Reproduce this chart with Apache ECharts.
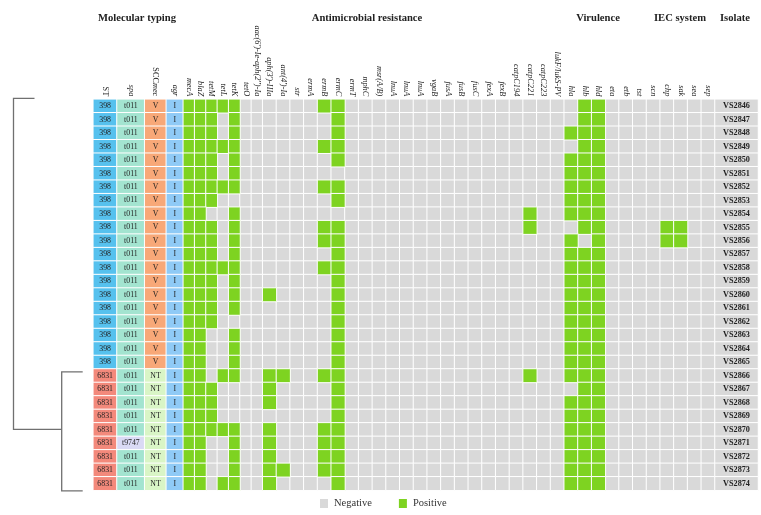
<!DOCTYPE html>
<html><head><meta charset="utf-8">
<script src="https://cdn.jsdelivr.net/npm/echarts/dist/echarts.min.js"></script>
<style>html,body{margin:0;padding:0;background:#fff}#c{width:761px;height:515px}</style>
</head><body><div id="c"></div>
<script>
// ---------------- data ----------------
const isolates = ['VS2846','VS2847','VS2848','VS2849','VS2850','VS2851','VS2852','VS2853','VS2854','VS2855',
  'VS2856','VS2857','VS2858','VS2859','VS2860','VS2861','VS2862','VS2863','VS2864','VS2865',
  'VS2866','VS2867','VS2868','VS2869','VS2870','VS2871','VS2872','VS2873','VS2874'];
const stValues = ['398','398','398','398','398','398','398','398','398','398','398','398','398','398','398','398','398','398','398','398',
  '6831','6831','6831','6831','6831','6831','6831','6831','6831'];
const spaValues = ['t011','t011','t011','t011','t011','t011','t011','t011','t011','t011','t011','t011','t011','t011','t011','t011','t011','t011','t011','t011',
  't011','t011','t011','t011','t011','t9747','t011','t011','t011'];
const sccValues = ['V','V','V','V','V','V','V','V','V','V','V','V','V','V','V','V','V','V','V','V',
  'NT','NT','NT','NT','NT','NT','NT','NT','NT'];
const agrValues = ['I','I','I','I','I','I','I','I','I','I','I','I','I','I','I','I','I','I','I','I','I','I','I','I','I','I','I','I','I'];
const genesA = ['mecA','blaZ','tetM','tetL','tetK','tetO',"aac(6')-Ie-aph(2'')-Ia"];
const genesB = ["aph(3')-IIIa","ant(4')-Ia",'str','ermA','ermB','ermC','ermT','mphC','msr(A/B)','lnuA','lnuA','lnuA','vgaB',
  'fusA','fusB','fusC','fexA','fexB','catpC194','catpC221','catpC223','lukF/lukS-PV',
  'hla','hlb','hld','eta','etb','tst','scn','chp','sak','sea','sep'];
// presence (1) / absence (0) per isolate, columns in order genesA then genesB
const presence = [
  [1,1,1,1,1,0,0,0,0,0, 0,1,1,0,0,0,0,0,0,0, 0,0,0,0,0,0,0,0,0,0, 1,1,0,0,0,0,0,0,0,0],
  [1,1,1,0,1,0,0,0,0,0, 0,0,1,0,0,0,0,0,0,0, 0,0,0,0,0,0,0,0,0,0, 1,1,0,0,0,0,0,0,0,0],
  [1,1,1,0,1,0,0,0,0,0, 0,0,1,0,0,0,0,0,0,0, 0,0,0,0,0,0,0,0,0,1, 1,1,0,0,0,0,0,0,0,0],
  [1,1,1,1,1,0,0,0,0,0, 0,1,1,0,0,0,0,0,0,0, 0,0,0,0,0,0,0,0,0,0, 1,1,0,0,0,0,0,0,0,0],
  [1,1,1,0,1,0,0,0,0,0, 0,0,1,0,0,0,0,0,0,0, 0,0,0,0,0,0,0,0,0,1, 1,1,0,0,0,0,0,0,0,0],
  [1,1,1,0,1,0,0,0,0,0, 0,0,0,0,0,0,0,0,0,0, 0,0,0,0,0,0,0,0,0,1, 1,1,0,0,0,0,0,0,0,0],
  [1,1,1,1,1,0,0,0,0,0, 0,1,1,0,0,0,0,0,0,0, 0,0,0,0,0,0,0,0,0,1, 1,1,0,0,0,0,0,0,0,0],
  [1,1,1,0,0,0,0,0,0,0, 0,0,1,0,0,0,0,0,0,0, 0,0,0,0,0,0,0,0,0,1, 1,1,0,0,0,0,0,0,0,0],
  [1,1,0,0,1,0,0,0,0,0, 0,0,0,0,0,0,0,0,0,0, 0,0,0,0,0,0,1,0,0,1, 1,1,0,0,0,0,0,0,0,0],
  [1,1,1,0,1,0,0,0,0,0, 0,1,1,0,0,0,0,0,0,0, 0,0,0,0,0,0,1,0,0,0, 1,1,0,0,0,0,1,1,0,0],
  [1,1,1,0,1,0,0,0,0,0, 0,1,1,0,0,0,0,0,0,0, 0,0,0,0,0,0,0,0,0,1, 0,1,0,0,0,0,1,1,0,0],
  [1,1,1,0,1,0,0,0,0,0, 0,0,1,0,0,0,0,0,0,0, 0,0,0,0,0,0,0,0,0,1, 1,1,0,0,0,0,0,0,0,0],
  [1,1,1,1,1,0,0,0,0,0, 0,1,1,0,0,0,0,0,0,0, 0,0,0,0,0,0,0,0,0,1, 1,1,0,0,0,0,0,0,0,0],
  [1,1,1,0,1,0,0,0,0,0, 0,0,1,0,0,0,0,0,0,0, 0,0,0,0,0,0,0,0,0,1, 1,1,0,0,0,0,0,0,0,0],
  [1,1,1,0,1,0,0,1,0,0, 0,0,1,0,0,0,0,0,0,0, 0,0,0,0,0,0,0,0,0,1, 1,1,0,0,0,0,0,0,0,0],
  [1,1,1,0,1,0,0,0,0,0, 0,0,1,0,0,0,0,0,0,0, 0,0,0,0,0,0,0,0,0,1, 1,1,0,0,0,0,0,0,0,0],
  [1,1,1,0,0,0,0,0,0,0, 0,0,1,0,0,0,0,0,0,0, 0,0,0,0,0,0,0,0,0,1, 1,1,0,0,0,0,0,0,0,0],
  [1,1,0,0,1,0,0,0,0,0, 0,0,1,0,0,0,0,0,0,0, 0,0,0,0,0,0,0,0,0,1, 1,1,0,0,0,0,0,0,0,0],
  [1,1,0,0,1,0,0,0,0,0, 0,0,1,0,0,0,0,0,0,0, 0,0,0,0,0,0,0,0,0,1, 1,1,0,0,0,0,0,0,0,0],
  [1,1,0,0,1,0,0,0,0,0, 0,0,1,0,0,0,0,0,0,0, 0,0,0,0,0,0,0,0,0,1, 1,1,0,0,0,0,0,0,0,0],
  [1,1,0,1,1,0,0,1,1,0, 0,1,1,0,0,0,0,0,0,0, 0,0,0,0,0,0,1,0,0,1, 1,1,0,0,0,0,0,0,0,0],
  [1,1,1,0,0,0,0,1,0,0, 0,0,1,0,0,0,0,0,0,0, 0,0,0,0,0,0,0,0,0,0, 1,1,0,0,0,0,0,0,0,0],
  [1,1,1,0,0,0,0,1,0,0, 0,0,1,0,0,0,0,0,0,0, 0,0,0,0,0,0,0,0,0,1, 1,1,0,0,0,0,0,0,0,0],
  [1,1,1,0,0,0,0,0,0,0, 0,0,1,0,0,0,0,0,0,0, 0,0,0,0,0,0,0,0,0,1, 1,1,0,0,0,0,0,0,0,0],
  [1,1,1,1,1,0,0,1,0,0, 0,1,1,0,0,0,0,0,0,0, 0,0,0,0,0,0,0,0,0,1, 1,1,0,0,0,0,0,0,0,0],
  [1,1,0,0,1,0,0,1,0,0, 0,1,1,0,0,0,0,0,0,0, 0,0,0,0,0,0,0,0,0,1, 1,1,0,0,0,0,0,0,0,0],
  [1,1,0,0,1,0,0,1,0,0, 0,1,1,0,0,0,0,0,0,0, 0,0,0,0,0,0,0,0,0,1, 1,1,0,0,0,0,0,0,0,0],
  [1,1,0,0,1,0,0,1,1,0, 0,1,1,0,0,0,0,0,0,0, 0,0,0,0,0,0,0,0,0,1, 1,1,0,0,0,0,0,0,0,0],
  [1,1,0,1,1,0,0,1,0,0, 0,0,1,0,0,0,0,0,0,0, 0,0,0,0,0,0,0,0,0,1, 1,1,0,0,0,0,0,0,0,0]
];
const groupTitles = ['Molecular typing','Antimicrobial resistance','Virulence','IEC system','Isolate'];

// ---------------- styles ----------------
const FONT = '"Liberation Serif", "Times New Roman", serif';
const NEG = '#d9d9d9', POS = '#7ed321';
const typeColors = {
  '398':'#56c1ee','6831':'#f3897b','t011':'#a3e4d0','t9747':'#dadaf5',
  'V':'#f8a878','NT':'#d9f5c6','I':'#8fcaf6'
};
const TOP = 99.3, HEIGHT = 391;
const gridDefs = [
  {left:93.3, width:23.7},   // ST
  {left:117, width:27.7},    // spa
  {left:144.7, width:21.6},  // SCCmec
  {left:166.3, width:17},    // agr
  {left:183.3, width:79.4},  // genes A
  {left:262.7, width:452.3}, // genes B
  {left:715, width:43}       // isolate
];
const grid = gridDefs.map(g => ({left:g.left, width:g.width, top:TOP, height:HEIGHT, containLabel:false}));

const baseLabel = {rotate:90, fontSize:8.3, fontFamily:FONT, color:'#222', margin:3, interval:0};
function xAx(i, data, extra) {
  return Object.assign({
    type:'category', gridIndex:i, position:'top', data:data,
    axisLine:{show:false}, axisTick:{show:false}, splitLine:{show:false},
    axisLabel:Object.assign({}, baseLabel)
  }, extra || {});
}
const xAxis = [
  xAx(0, ['ST']),
  xAx(1, ['spa'], {axisLabel:Object.assign({}, baseLabel, {fontStyle:'italic'})}),
  xAx(2, ['SCCmec'], {axisLabel:Object.assign({}, baseLabel, {
      formatter:()=>'{n|SCC}{i|mec}',
      rich:{n:{fontSize:8.3,fontFamily:FONT,color:'#222'}, i:{fontSize:8.3,fontFamily:FONT,fontStyle:'italic',color:'#222'}}})}),
  xAx(3, ['agr'], {axisLabel:Object.assign({}, baseLabel, {fontStyle:'italic'})}),
  xAx(4, genesA, {axisLabel:Object.assign({}, baseLabel, {fontStyle:'italic'})}),
  xAx(5, genesB, {axisLabel:Object.assign({}, baseLabel, {fontStyle:'italic'})}),
  xAx(6, ['Isolate'], {axisLabel:{show:false}})
];
const yAxis = grid.map((g,i) => ({type:'category', gridIndex:i, data:isolates, inverse:true, show:false}));

const cellStyle = {borderColor:'#fff', borderWidth:1};
function typingSeries(idx, values) {
  return {
    type:'heatmap', xAxisIndex:idx, yAxisIndex:idx,
    data: values.map((v,i)=>({value:[0,i,1], itemStyle:{color:typeColors[v]}})),
    itemStyle:cellStyle,
    label:{show:true, fontSize:7.8, fontFamily:FONT, color:'#222',
      formatter:p=>values[p.data.value[1]]},
    emphasis:{disabled:true}, silent:true
  };
}
function geneSeries(idx, offset, count, val, name) {
  const data = [];
  presence.forEach((row,i)=>{
    for (let j=0;j<count;j++) if (row[offset+j]===val) data.push([j,i,val]);
  });
  return {type:'heatmap', name:name, xAxisIndex:idx, yAxisIndex:idx, data:data,
    itemStyle:Object.assign({color: val ? POS : NEG}, cellStyle),
    emphasis:{disabled:true}, silent:true};
}
const series = [
  typingSeries(0, stValues),
  typingSeries(1, spaValues),
  typingSeries(2, sccValues),
  typingSeries(3, agrValues),
  geneSeries(4, 0, genesA.length, 0, 'Negative'),
  geneSeries(4, 0, genesA.length, 1, 'Positive'),
  geneSeries(5, genesA.length, genesB.length, 0, 'Negative'),
  geneSeries(5, genesA.length, genesB.length, 1, 'Positive'),
  {type:'heatmap', xAxisIndex:6, yAxisIndex:6,
    data:isolates.map((s,i)=>[0,i,0]),
    itemStyle:Object.assign({color:NEG}, cellStyle),
    label:{show:true, fontSize:8.2, fontWeight:'bold', fontFamily:FONT, color:'#222',
      formatter:p=>isolates[p.data[1]]},
    emphasis:{disabled:true}, silent:true}
];

// group titles (centered over their column groups)
const titleX = [137, 367, 598, 680, 735];
const graphics = groupTitles.map((t,k)=>({
  type:'text', x:titleX[k], y:18,
  style:{text:t, x:0, y:0, align:'center', verticalAlign:'middle', font:'bold 10.6px ' + FONT, fill:'#222'}
}));

// dendrogram
const rowH = HEIGHT / isolates.length;
const yTop = TOP - 1, yClTop = TOP + 20 * rowH + 3, yBot = TOP + HEIGHT + 0.5;
const yMid = (yClTop + yBot) / 2 - 2;
const lineStyle = {stroke:'#707070', lineWidth:1.3, fill:null};
graphics.push(
  {type:'polyline', shape:{points:[[34.5,yTop],[13.5,yTop],[13.5,yMid],[61.7,yMid]]}, style:lineStyle, silent:true},
  {type:'polyline', shape:{points:[[82.7,yClTop],[61.7,yClTop],[61.7,yBot],[82.7,yBot]]}, style:lineStyle, silent:true}
);

const option = {
  animation:false,
  backgroundColor:'#fff',
  grid:grid, xAxis:xAxis, yAxis:yAxis, series:series,
  legend:{data:['Negative','Positive'], left:318, top:497, padding:0, icon:'rect', itemWidth:10, itemHeight:11, itemGap:25,
    selectedMode:false, textStyle:{fontFamily:FONT, fontSize:10.5, color:'#333'}},
  graphic:graphics
};
const chart = echarts.init(document.getElementById('c'), null, {renderer:'canvas'});
chart.setOption(option);
</script></body></html>
